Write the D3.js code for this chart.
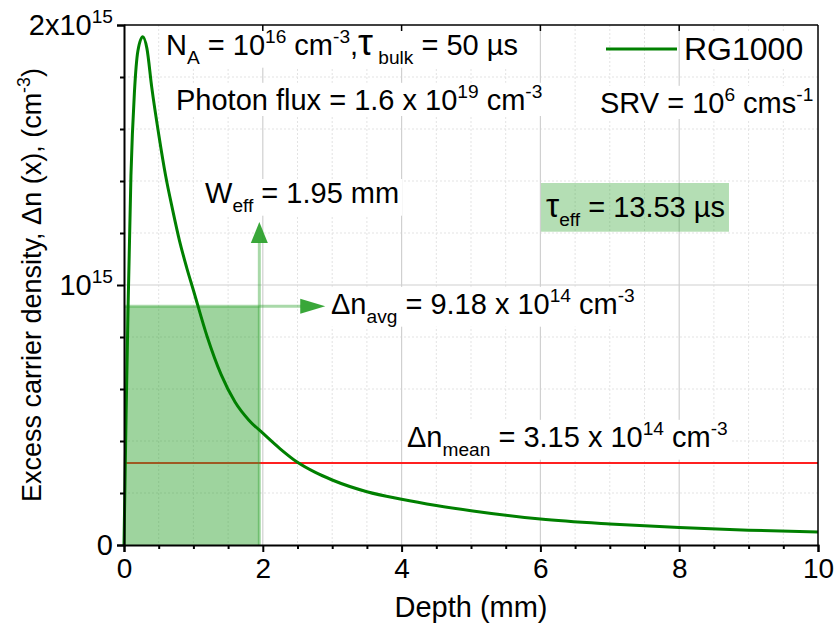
<!DOCTYPE html>
<html>
<head>
<meta charset="utf-8">
<script src="https://cdn.jsdelivr.net/npm/d3@7"></script>
<style>
  html, body { margin: 0; padding: 0; background: #fff; }
  svg { display: block; font-family: "Liberation Sans", Arial, sans-serif; }
  text { white-space: pre; fill: #000; }
</style>
</head>
<body>
<svg id="chart" width="835" height="631"></svg>
<script>
// Excess carrier density profile along the depth (mm -> cm^-3)
const depthMM = [0, 0.03, 0.06, 0.1, 0.15, 0.2, 0.27, 0.33, 0.4, 0.5, 0.6, 0.7, 0.8, 0.9, 1.0,
  1.2, 1.4, 1.6, 1.8, 2.0, 2.25, 2.5, 2.75, 3.0, 3.5, 4.0, 4.5, 5.0, 6.0, 7.0, 8.0, 9.0, 10.0];
const deltaN = [0, 0.50e15, 0.93e15, 1.42e15, 1.74e15, 1.90e15, 1.955e15, 1.91e15, 1.76e15, 1.58e15,
  1.42e15, 1.29e15, 1.17e15, 1.07e15, 0.98e15, 0.80e15, 0.655e15, 0.55e15, 0.48e15, 0.43e15,
  0.37e15, 0.318e15, 0.28e15, 0.25e15, 0.205e15, 0.176e15, 0.152e15, 0.132e15, 0.10e15, 0.081e15,
  0.067e15, 0.057e15, 0.05e15];

const seriesName = "RG1000";
const effectiveWidthMM = 1.95;      // W_eff
const avgDensity = 9.18e14;         // Δn_avg
const meanDensity = 3.15e14;        // Δn_mean
const effLifetimeUs = 13.53;        // τ_eff

const xTickValues = [0, 2, 4, 6, 8, 10];
const yTickValues = [0, 1e15, 2e15];
const yTickLabels = [["0", ""], ["10", "15"], ["2x10", "15"]];

const svg = d3.select("#chart");
const plot = { left: 124, right: 818, top: 25, bottom: 545 };

const x = d3.scaleLinear().domain([0, 10]).range([plot.left, plot.right]);
const y = d3.scaleLinear().domain([0, 2e15]).range([plot.bottom, plot.top]);

const green = "#008000";
const fillGreen = "rgb(40,160,40)";

// rich text helper: parts = [{t, sub, sup, scale}]
function richText(g, px, py, parts, size, anchor) {
  const t = g.append("text").attr("x", px).attr("y", py)
    .attr("font-size", size).attr("text-anchor", anchor || "start");
  let cur = 0;
  parts.forEach(p => {
    const target = p.sub ? 0.3 * size : p.sup ? -0.42 * size : 0;
    const ts = t.append("tspan").attr("dy", target - cur).text(p.t);
    if (p.sub || p.sup) ts.attr("font-size", 0.66 * size);
    if (p.scale) ts.attr("font-size", p.scale * size);
    cur = target;
  });
  return t;
}

// grid
const grid = svg.append("g");
const minorX = d3.range(0.5, 10, 0.5).filter(v => v % 2 !== 0);
const minorY = d3.range(2e14, 2e15, 2e14).filter(v => Math.abs(v - 1e15) > 1);
grid.selectAll(".mx").data(minorX).join("line")
  .attr("x1", d => x(d)).attr("x2", d => x(d)).attr("y1", plot.top).attr("y2", plot.bottom)
  .attr("stroke", "#e3e3e3").attr("stroke-dasharray", "2,2").attr("stroke-width", 1);
grid.selectAll(".my").data(minorY).join("line")
  .attr("y1", d => y(d)).attr("y2", d => y(d)).attr("x1", plot.left).attr("x2", plot.right)
  .attr("stroke", "#e3e3e3").attr("stroke-dasharray", "2,2").attr("stroke-width", 1);
grid.selectAll(".Mx").data(xTickValues.slice(1, -1)).join("line")
  .attr("x1", d => x(d)).attr("x2", d => x(d)).attr("y1", plot.top).attr("y2", plot.bottom)
  .attr("stroke", "#d0d0d0").attr("stroke-width", 1.2);
grid.append("line")
  .attr("x1", plot.left).attr("x2", plot.right).attr("y1", y(1e15)).attr("y2", y(1e15))
  .attr("stroke", "#d0d0d0").attr("stroke-width", 1.2);

const boxes = svg.append("g");
const marks = svg.append("g");
const notes = svg.append("g");

// mean density line
marks.append("line")
  .attr("x1", x(0)).attr("x2", x(10)).attr("y1", y(meanDensity)).attr("y2", y(meanDensity))
  .attr("stroke", "#ff2020").attr("stroke-width", 2);

// shaded W_eff x Δn_avg area
marks.append("rect")
  .attr("x", x(0)).attr("y", y(avgDensity))
  .attr("width", x(effectiveWidthMM) - x(0)).attr("height", y(0) - y(avgDensity))
  .attr("fill", fillGreen).attr("fill-opacity", 0.45);

// arrows
const arrowColor = "rgb(40,160,40)";
const vTip = y(1.242e15), hTip = x(2.9);
marks.append("line")
  .attr("x1", x(effectiveWidthMM)).attr("x2", x(effectiveWidthMM))
  .attr("y1", y(0)).attr("y2", vTip + 20)
  .attr("stroke", arrowColor).attr("stroke-opacity", 0.4).attr("stroke-width", 3);
marks.append("line")
  .attr("x1", x(0)).attr("x2", hTip - 24)
  .attr("y1", y(avgDensity)).attr("y2", y(avgDensity))
  .attr("stroke", arrowColor).attr("stroke-opacity", 0.4).attr("stroke-width", 3);
const vx = x(effectiveWidthMM);
marks.append("path")
  .attr("d", `M${vx},${vTip} L${vx - 8.5},${vTip + 21} L${vx + 8.5},${vTip + 21} Z`)
  .attr("fill", arrowColor).attr("fill-opacity", 0.92);
const hy = y(avgDensity);
marks.append("path")
  .attr("d", `M${hTip},${hy} L${hTip - 25},${hy - 7.5} L${hTip - 25},${hy + 7.5} Z`)
  .attr("fill", arrowColor).attr("fill-opacity", 0.92);

// density curve
const line = d3.line().x((d, i) => x(depthMM[i])).y(d => y(d)).curve(d3.curveMonotoneX);
marks.append("path").datum(deltaN)
  .attr("d", line).attr("fill", "none").attr("stroke", green).attr("stroke-width", 3)
  .attr("stroke-linejoin", "round");

// annotations
const F = 29;
const annos = [];
annos.push(richText(notes, 166, 55, [
  { t: "N" }, { t: "A", sub: true }, { t: " = 10" }, { t: "16", sup: true }, { t: " cm" },
  { t: "-3", sup: true }, { t: "," }, { t: "τ", scale: 1.3 }, { t: " bulk", sub: true }, { t: " = 50 µs" }
], F));
annos.push(richText(notes, 176, 110, [
  { t: "Photon flux = 1.6 x 10" }, { t: "19", sup: true }, { t: " cm" }, { t: "-3", sup: true }
], F));
annos.push(richText(notes, 600, 113, [
  { t: "SRV = 10" }, { t: "6", sup: true }, { t: " cms" }, { t: "-1", sup: true }
], F));
annos.push(richText(notes, 205, 203, [
  { t: "W" }, { t: "eff", sub: true }, { t: " = 1.95 mm" }
], F));
annos.push(richText(notes, 331, 314, [
  { t: "Δn" }, { t: "avg", sub: true }, { t: " = 9.18 x 10" }, { t: "14", sup: true },
  { t: " cm" }, { t: "-3", sup: true }
], F));
annos.push(richText(notes, 407, 447, [
  { t: "Δn" }, { t: "mean", sub: true }, { t: " = 3.15 x 10" }, { t: "14", sup: true },
  { t: " cm" }, { t: "-3", sup: true }
], F));
const tauText = richText(notes, 546, 217, [
  { t: "τ", scale: 1.15 }, { t: "eff", sub: true }, { t: " = " + effLifetimeUs.toFixed(2) + " µs" }
], F);

// legend
const legend = notes.append("g");
legend.append("line").attr("x1", 606).attr("x2", 677).attr("y1", 49).attr("y2", 49)
  .attr("stroke", green).attr("stroke-width", 3);
const legText = legend.append("text").attr("x", 684).attr("y", 60).attr("font-size", 32).text(seriesName);

// white boxes behind annotations
annos.concat([legText]).forEach(t => {
  const b = t.node().getBBox();
  boxes.append("rect").attr("x", b.x - 3).attr("y", b.y + 2).attr("width", b.width + 6)
    .attr("height", b.height - 2).attr("fill", "#fff");
});
// green box behind τ_eff
{
  const b = tauText.node().getBBox();
  boxes.append("rect").attr("x", b.x - 5).attr("y", b.y - 4).attr("width", b.width + 9)
    .attr("height", b.height + 6).attr("fill", fillGreen).attr("fill-opacity", 0.35);
}

// axes
const axes = svg.append("g");
// frame
axes.append("line").attr("x1", plot.left).attr("x2", plot.right).attr("y1", plot.top).attr("y2", plot.top)
  .attr("stroke", "#000").attr("stroke-width", 1.5);
axes.append("line").attr("x1", plot.right).attr("x2", plot.right).attr("y1", plot.top).attr("y2", plot.bottom)
  .attr("stroke", "#000").attr("stroke-width", 1.5);
// top inward ticks
axes.selectAll(".tt").data(xTickValues.slice(1, -1)).join("line")
  .attr("x1", d => x(d)).attr("x2", d => x(d)).attr("y1", plot.top).attr("y2", plot.top + 6)
  .attr("stroke", "#000").attr("stroke-width", 1.5);

const xAxis = d3.axisBottom(x).tickValues(xTickValues).tickSize(7).tickPadding(6).tickFormat(d3.format("d"));
const gx = axes.append("g").attr("transform", `translate(0,${plot.bottom})`).call(xAxis);
gx.select(".domain").attr("stroke-width", 2);
gx.selectAll(".tick line").attr("stroke-width", 2);
gx.selectAll(".tick text").attr("font-size", 28).attr("font-family", "Liberation Sans, Arial, sans-serif")
  .attr("fill", "#000");
const xMinor = d3.axisBottom(x).tickValues(minorX).tickSize(4).tickFormat("");
const gxm = axes.append("g").attr("transform", `translate(0,${plot.bottom})`).call(xMinor);
gxm.select(".domain").remove();
gxm.selectAll(".tick line").attr("stroke-width", 2);

const yAxis = d3.axisLeft(y).tickValues(yTickValues).tickSize(7).tickFormat("");
const gy = axes.append("g").attr("transform", `translate(${plot.left},0)`).call(yAxis);
gy.select(".domain").attr("stroke-width", 2);
gy.selectAll(".tick line").attr("stroke-width", 2);
const yMinor = d3.axisLeft(y).tickValues(minorY).tickSize(4).tickFormat("");
const gym = axes.append("g").attr("transform", `translate(${plot.left},0)`).call(yMinor);
gym.select(".domain").remove();
gym.selectAll(".tick line").attr("stroke-width", 2);

yTickValues.forEach((v, i) => {
  const [base, sup] = yTickLabels[i];
  const parts = [{ t: base }];
  if (sup) parts.push({ t: sup, sup: true });
  richText(axes, plot.left - 11, y(v) + 10, parts, 29, "end");
});

// axis titles
axes.append("text").attr("x", (plot.left + plot.right) / 2).attr("y", 617)
  .attr("text-anchor", "middle").attr("font-size", 29).text("Depth (mm)");
const yt = axes.append("g").attr("transform", `translate(41,${(plot.top + plot.bottom) / 2}) rotate(-90)`);
richText(yt, 0, 0, [
  { t: "Excess carrier density, Δn (x), (cm" }, { t: "-3", sup: true }, { t: ")" }
], 27, "middle");
</script>
</body>
</html>
